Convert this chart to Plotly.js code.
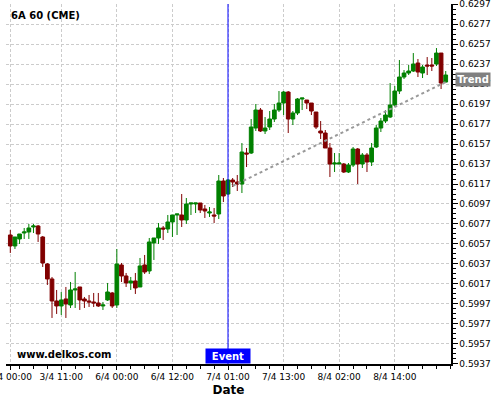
<!DOCTYPE html>
<html>
<head>
<meta charset="utf-8">
<script src="https://cdn.plot.ly/plotly-3.0.1.min.js"></script>
<style>html,body{margin:0;padding:0;background:#fff;}#chart{width:500px;height:400px;}</style>
</head>
<body>
<div id="chart"></div>
<script>
// Hourly candles (index positions)
const openV = [0.6066,0.6055,0.6062,0.6068,0.6069,0.6074,0.6075,0.6064,0.6037,0.6022,
0.6000,0.5995,0.6002,0.5996,0.6011,0.6014,0.6002,0.6000,0.5999,0.5998,
0.5995,0.6001,0.6008,0.5996,0.6036,0.6025,0.6018,0.6020,0.6014,0.6036,
0.6030,0.6058,0.6063,0.6073,0.6072,0.6079,0.6086,0.6086,0.6081,0.6097,
0.6097,0.6098,0.6092,0.6088,0.6086,0.6087,0.6120,0.6107,0.6121,0.6119,
0.6117,0.6148,0.6148,0.6173,0.6191,0.6170,0.6174,0.6182,0.6191,0.6198,
0.6209,0.6182,0.6188,0.6202,0.6201,0.6198,0.6189,0.6170,0.6168,0.6153,
0.6137,0.6137,0.6137,0.6129,0.6136,0.6152,0.6137,0.6146,0.6139,0.6154,
0.6173,0.6180,0.6184,0.6196,0.6210,0.6224,0.6228,0.6230,0.6238,0.6228,
0.6236,0.6236,0.6237,0.6248,0.6219];
const highV = [0.6071,0.6064,0.6067,0.6073,0.6077,0.6077,0.6076,0.6065,0.6038,0.6024,
0.6011,0.6009,0.6014,0.6019,0.6029,0.6014,0.6004,0.6006,0.6008,0.6008,
0.5999,0.6018,0.6009,0.6052,0.6038,0.6028,0.6024,0.6028,0.6043,0.6046,
0.6063,0.6063,0.6078,0.6075,0.6086,0.6086,0.6087,0.6107,0.6103,0.6098,
0.6098,0.6098,0.6096,0.6094,0.6093,0.6126,0.6123,0.6122,0.6123,0.6126,
0.6158,0.6153,0.6182,0.6197,0.6193,0.6184,0.6190,0.6197,0.6210,0.6210,
0.6210,0.6190,0.6203,0.6203,0.6201,0.6198,0.6189,0.6180,0.6171,0.6158,
0.6148,0.6148,0.6138,0.6138,0.6154,0.6153,0.6148,0.6148,0.6158,0.6176,
0.6183,0.6191,0.6218,0.6215,0.6241,0.6231,0.6236,0.6248,0.6242,0.6236,
0.6244,0.6243,0.6253,0.6248,0.6230];
const lowV = [0.6048,0.6052,0.6057,0.6062,0.6062,0.6068,0.6059,0.6034,0.6016,0.5983,
0.5987,0.5986,0.5983,0.5993,0.5993,0.5991,0.5993,0.5994,0.5994,0.5994,
0.5991,0.6000,0.5993,0.5993,0.6019,0.6014,0.6011,0.6007,0.6014,0.6027,
0.6027,0.6041,0.6057,0.6061,0.6068,0.6064,0.6066,0.6074,0.6077,0.6086,
0.6088,0.6088,0.6083,0.6084,0.6078,0.6082,0.6099,0.6106,0.6114,0.6110,
0.6108,0.6134,0.6147,0.6170,0.6169,0.6167,0.6171,0.6179,0.6189,0.6186,
0.6168,0.6176,0.6186,0.6191,0.6192,0.6186,0.6172,0.6162,0.6153,0.6124,
0.6129,0.6137,0.6128,0.6128,0.6134,0.6117,0.6133,0.6129,0.6135,0.6153,
0.6169,0.6178,0.6183,0.6194,0.6207,0.6222,0.6226,0.6229,0.6224,0.6223,
0.6226,0.6230,0.6235,0.6212,0.6218];
const closeV = [0.6055,0.6064,0.6067,0.6069,0.6073,0.6075,0.6067,0.6038,0.6022,0.6000,
0.5995,0.6001,0.5997,0.6011,0.6012,0.6001,0.6000,0.5999,0.5998,0.5995,
0.5996,0.6009,0.5995,0.6037,0.6025,0.6018,0.6020,0.6013,0.6035,0.6029,
0.6059,0.6063,0.6073,0.6072,0.6079,0.6086,0.6087,0.6081,0.6097,0.6098,
0.6098,0.6091,0.6090,0.6089,0.6085,0.6120,0.6105,0.6121,0.6119,0.6117,
0.6149,0.6147,0.6174,0.6191,0.6170,0.6173,0.6182,0.6191,0.6198,0.6209,
0.6182,0.6188,0.6202,0.6203,0.6198,0.6190,0.6174,0.6168,0.6153,0.6137,
0.6138,0.6138,0.6129,0.6136,0.6152,0.6137,0.6146,0.6139,0.6153,0.6173,
0.6180,0.6186,0.6196,0.6210,0.6224,0.6228,0.6230,0.6237,0.6229,0.6234,
0.6235,0.6235,0.6248,0.6218,0.6226];
const candleIdx = openV.map((_, i) => i);

const tickIdx = [0, 11, 23, 35, 47, 59, 71, 83];
const tickLabels = ["3/4 00:00","3/4 11:00","6/4 00:00","6/4 12:00","7/4 01:00","7/4 13:00","8/4 02:00","8/4 14:00"];

const eventIdx = 47;
const eventLabel = "Event";
const trendIdx = [48, 94];
const trendVal = [0.6115, 0.6219];
const trendLabel = "Trend";

const FONT = "DejaVu Sans, Verdana, sans-serif";

const traces = [
  {
    type: 'candlestick',
    x: candleIdx, open: openV, high: highV, low: lowV, close: closeV,
    increasing: {line: {color: '#008000', width: 1}, fillcolor: '#008000'},
    decreasing: {line: {color: '#800000', width: 1}, fillcolor: '#800000'},
    whiskerwidth: 0,
    hoverinfo: 'skip',
    showlegend: false
  },
  {
    type: 'scatter', mode: 'lines',
    x: trendIdx, y: trendVal,
    line: {color: '#999999', width: 2, dash: 'dot'},
    hoverinfo: 'skip', showlegend: false
  }
];

const layout = {
  width: 500, height: 400,
  margin: {l: 6, r: 49, t: 4, b: 36},
  paper_bgcolor: '#ffffff', plot_bgcolor: '#ffffff',
  font: {family: FONT, size: 9, color: '#000'},
  boxgap: 0.2, boxgroupgap: 0,
  showlegend: false,
  title: {text: '<b>6A 60 (CME)</b>', font: {family: FONT, size: 10, color: '#000'},
          x: 11/500, xref: 'container', xanchor: 'left', y: 1 - 15.5/400, yref: 'container', yanchor: 'middle'},
  xaxis: {
    range: [-0.93, 95.14],
    rangeslider: {visible: false},
    tickmode: 'array', tickvals: tickIdx, ticktext: tickLabels,
    ticklabeloverflow: 'allow',
    ticks: 'outside', ticklen: 4, tickcolor: '#000', tickwidth: 1,
    showline: true, linecolor: '#000', linewidth: 1.5,
    showgrid: true, gridcolor: '#cccccc', griddash: '3px,2px', gridwidth: 1,
    zeroline: false,
    tickfont: {family: FONT, size: 9, color: '#000'},
    minor: {tick0: 11, dtick: 3, ticks: 'outside', ticklen: 3, tickcolor: '#000', showgrid: false},
    title: {text: '<b>Date</b>', font: {family: FONT, size: 12, color: '#000'}, standoff: 4},
    automargin: false, fixedrange: true
  },
  yaxis: {
    side: 'right',
    range: [0.593695, 0.629705],
    tickmode: 'linear', tick0: 0.5937, dtick: 0.002, tickformat: '.4f',
    ticklabeloverflow: 'allow',
    ticks: 'outside', ticklen: 5, tickcolor: '#000', tickwidth: 1,
    showline: true, linecolor: '#000', linewidth: 1.5,
    showgrid: true, gridcolor: '#cccccc', griddash: '3px,2px', gridwidth: 1,
    zeroline: false,
    tickfont: {family: FONT, size: 9, color: '#000'},
    minor: {tick0: 0.5937, dtick: 0.0005, ticks: 'outside', ticklen: 3, tickcolor: '#000', showgrid: false},
    automargin: false, fixedrange: true
  },
  shapes: [
    {type: 'line', xref: 'x', yref: 'paper', x0: eventIdx, x1: eventIdx, y0: 0, y1: 1,
     line: {color: '#0000ff', width: 1}}
  ],
  annotations: [
    {xref: 'x', yref: 'paper', x: eventIdx, y: 0, xanchor: 'center', yanchor: 'bottom',
     text: '<b>' + eventLabel + '</b>', showarrow: false, bgcolor: '#0000ff',
     font: {family: FONT, size: 10, color: '#fff'}, width: 42, height: 12, borderpad: 1},
    {xref: 'paper', yref: 'y', x: (455-6)/445, y: trendVal[1], xanchor: 'left', yanchor: 'middle', yshift: 3,
     text: '<b>' + trendLabel + '</b>', showarrow: false, bgcolor: '#808080',
     font: {family: FONT, size: 10, color: '#fff'}, width: 32, height: 11, borderpad: 1},
    {xref: 'paper', yref: 'paper', x: (15-6)/445, y: (364-354)/360, xanchor: 'left', yanchor: 'middle',
     text: '<b>www.delkos.com</b>', showarrow: false,
     font: {family: FONT, size: 10, color: '#000'}}
  ]
};

Plotly.newPlot('chart', traces, layout, {staticPlot: true, displayModeBar: false});
</script>
</body>
</html>
